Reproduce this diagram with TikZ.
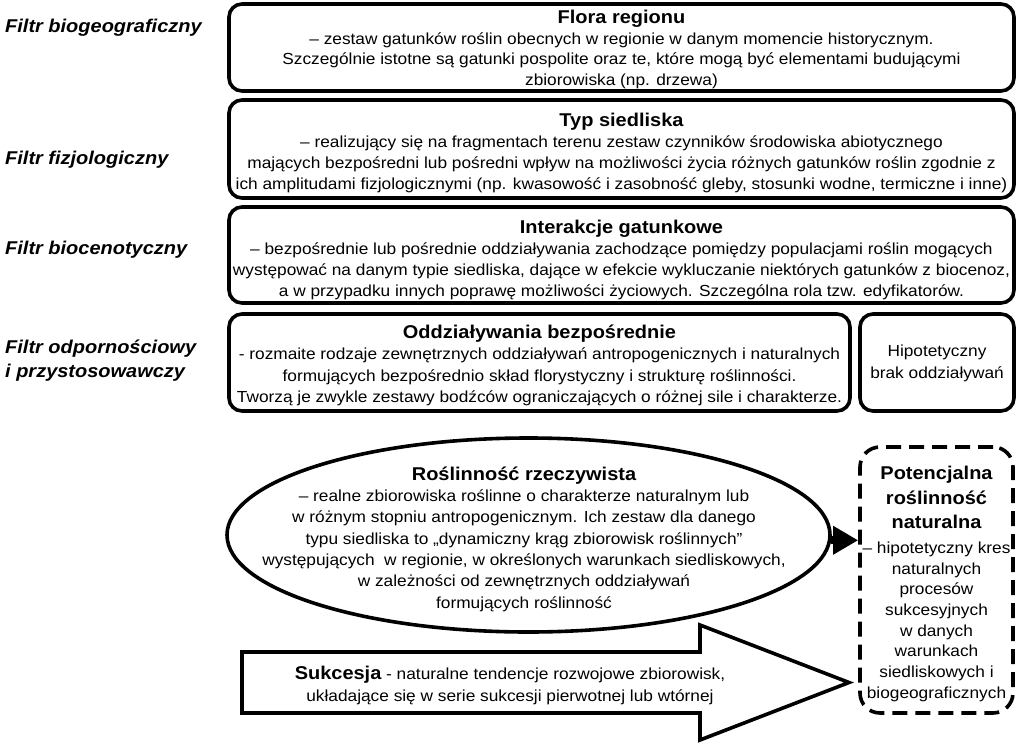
\documentclass[tikz,border=0pt]{standalone}
\usepackage{fontspec}
\setmainfont{Liberation Sans}[FakeStretch=1.08]
\usetikzlibrary{arrows.meta,shapes.geometric}
\tikzset{
    panel/.style={
        draw,line width=3.6pt,rounded corners=13pt,inner sep=0pt
    },
    filtr/.style={
        anchor=west,align=left,inner sep=0pt,
        font=\fontsize{18.5}{24}\selectfont\bfseries\itshape
    },
    opis/.style={align=center,inner sep=0pt,font=\fontsize{16}{21.3}\selectfont},
    grot/.style={
        -{Triangle[length=25pt,width=27pt]},line width=8pt
    }
}
\newcommand{\tytul}[1]{{\fontsize{18.5}{21.3}\selectfont\bfseries #1}}

\begin{document}
\begin{tikzpicture}[x=1pt,y=-1pt]
\useasboundingbox (0,0) rectangle (1036,744);

% filtry
\node[filtr] (f1) at (5,28) {Filtr biogeograficzny};
\node[filtr] (f2) at (5,160) {Filtr fizjologiczny};
\node[filtr] (f3) at (5,250) {Filtr biocenotyczny};
\node[filtr] (f4) at (5,361) {Filtr odpornościowy\\i przystosowawczy};

% panele
\node[panel,minimum width=785pt,minimum height=87pt] (flora) at (621.5,47.5) {};
\node[opis,font=\fontsize{16}{20.8}\selectfont,yshift=-2pt] (floratxt) at (flora)
{
\tytul{Flora regionu}\\
– zestaw gatunków roślin obecnych w regionie w danym momencie historycznym.\\
Szczególnie istotne są gatunki pospolite oraz te, które mogą być elementami budującymi\\
zbiorowiska (np. drzewa)
};

\node[panel,minimum width=785pt,minimum height=98pt] (siedl) at (621.5,149) {};
\node[opis,yshift=-4pt] (siedltxt) at (siedl)
{
\tytul{Typ siedliska}\\
– realizujący się na fragmentach terenu zestaw czynników środowiska abiotycznego\\
mających bezpośredni lub pośredni wpływ na możliwości życia różnych gatunków roślin zgodnie z\\
ich amplitudami fizjologicznymi (np. kwasowość i zasobność gleby, stosunki wodne, termiczne i inne)
};

\node[panel,minimum width=785pt,minimum height=96pt] (inter) at (621.5,255) {};
\node[opis,yshift=-5pt] (intertxt) at (inter)
{
\tytul{Interakcje gatunkowe}\\
– bezpośrednie lub pośrednie oddziaływania zachodzące pomiędzy populacjami roślin mogących\\
występować na danym typie siedliska, dające w efekcie wykluczanie niektórych gatunków z biocenoz,\\
a w przypadku innych poprawę możliwości życiowych. Szczególna rola tzw. edyfikatorów.
};

\node[panel,minimum width=621pt,minimum height=97pt] (oddz) at (539.5,362.5) {};
\node[opis,yshift=-3pt] (oddztxt) at (oddz)
{
\tytul{Oddziaływania bezpośrednie}\\
- rozmaite rodzaje zewnętrznych oddziaływań antropogenicznych i naturalnych\\
formujących bezpośrednio skład florystyczny i strukturę roślinności.\\
Tworzą je zwykle zestawy bodźców ograniczających o różnej sile i charakterze.
};

\node[panel,minimum width=154pt,minimum height=97pt] (brak) at (937,362.5) {};
\node[opis,yshift=-1pt] (braktxt) at (brak) {Hipotetyczny\\brak oddziaływań};

% roslinnosc rzeczywista
\node[ellipse,draw,line width=3.6pt,minimum width=603pt,minimum height=194pt] (rr) at (528.5,535) {};
\node[opis] (rrtxt) at (524,539)
{
\tytul{Roślinność rzeczywista}\\
– realne zbiorowiska roślinne o charakterze naturalnym lub\\
w różnym stopniu antropogenicznym. Ich zestaw dla danego\\
typu siedliska to „dynamiczny krąg zbiorowisk roślinnych”\\
występujących\ \ w regionie, w określonych warunkach siedliskowych,\\
w zależności od zewnętrznych oddziaływań\\
formujących roślinność
};

% potencjalna roslinnosc naturalna
\node[draw,line width=3.6pt,dash pattern=on 15pt off 8pt,rounded corners=20pt,
minimum width=153pt,minimum height=266pt,inner sep=0pt] (prn) at (936.5,580) {};
\node[opis,font=\fontsize{16}{20.7}\selectfont,yshift=-4pt] (prntxt) at (prn)
{
\tytul{Potencjalna}\\[3.8pt]
\tytul{roślinność}\\[3.8pt]
\tytul{naturalna}\\[3.8pt]
– hipotetyczny kres\\
naturalnych\\
procesów\\
sukcesyjnych\\
w danych\\
warunkach\\
siedliskowych i\\
biogeograficznych
};

\draw[grot] (rr.-1.5) -- (rr.-1.5 -| prn.west);

% sukcesja
\draw[line width=3.6pt] (242,652) -- (700,652) -- (700,625) -- (849,682.5)
 -- (700,740) -- (700,713) -- (242,713) -- cycle;
\node[opis] (sukc) at (510,685.5)
{\tytul{Sukcesja} - naturalne tendencje rozwojowe zbiorowisk,\\
układające się w serie sukcesji pierwotnej lub wtórnej};

\end{tikzpicture}
\end{document}
